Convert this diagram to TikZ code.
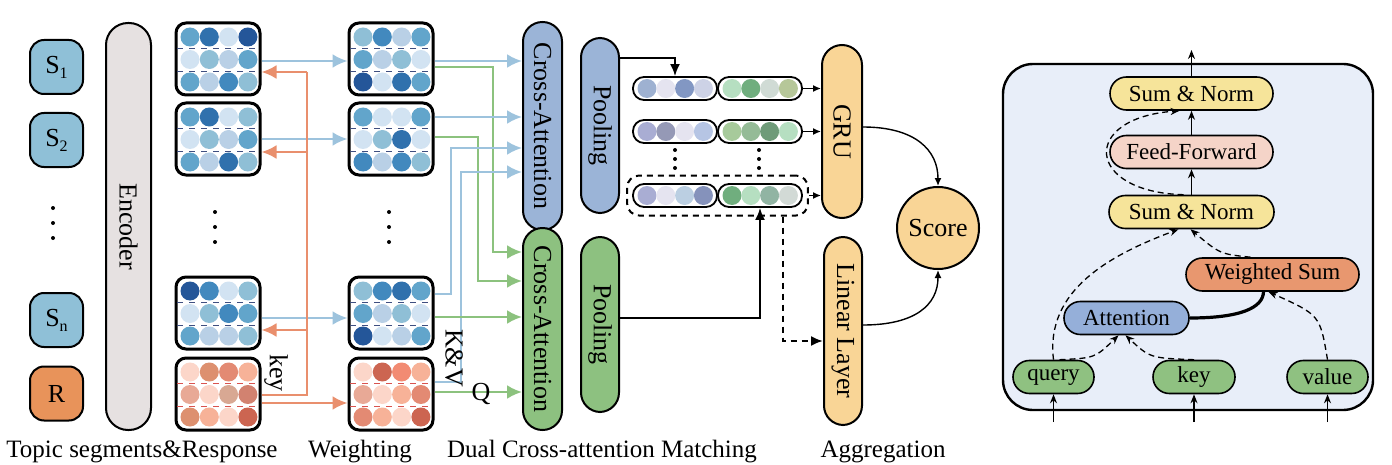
\documentclass[tikz,border=0pt]{standalone}
\usepackage{fontspec}
\setmainfont{Liberation Serif}
\usepackage{graphicx}
\usetikzlibrary{arrows.meta,positioning,fit}

% blues, reds of the feature cards
\definecolor{bA}{HTML}{D2E3F2}
\definecolor{bB}{HTML}{B9D0E6}
\definecolor{bC}{HTML}{8FBFD6}
\definecolor{bD}{HTML}{62A5CB}
\definecolor{bE}{HTML}{4289BE}
\definecolor{bF}{HTML}{3071AD}
\definecolor{bG}{HTML}{245699}
\definecolor{rA}{HTML}{FCD6C9}
\definecolor{rB}{HTML}{E8A996}
\definecolor{rC}{HTML}{F7B298}
\definecolor{rD}{HTML}{DD906F}
\definecolor{rE}{HTML}{E38A73}
\definecolor{rF}{HTML}{D8A893}
\definecolor{rG}{HTML}{D28270}
\definecolor{rH}{HTML}{CC6551}
\definecolor{rI}{HTML}{F28B73}
% pooled vectors
\definecolor{pA}{HTML}{9EB1D1}
\definecolor{pB}{HTML}{E5E4F0}
\definecolor{pC}{HTML}{8297C3}
\definecolor{pD}{HTML}{CDD2E6}
\definecolor{pE}{HTML}{A9ADD3}
\definecolor{pF}{HTML}{9599B6}
\definecolor{pG}{HTML}{B6C5E4}
\definecolor{pH}{HTML}{BBCFE2}
\definecolor{pI}{HTML}{8592BB}
\definecolor{gA}{HTML}{B6DFC1}
\definecolor{gB}{HTML}{70AE7E}
\definecolor{gC}{HTML}{D0DBD5}
\definecolor{gD}{HTML}{B6C799}
\definecolor{gE}{HTML}{A7CA9B}
\definecolor{gF}{HTML}{95BB97}
\definecolor{gG}{HTML}{6F9B79}
\definecolor{gH}{HTML}{91B4A3}
\definecolor{gI}{HTML}{D2DAD6}
% blocks and lines
\definecolor{sblue}{HTML}{8FC0D7}
\definecolor{rorange}{HTML}{E8935A}
\definecolor{encgray}{HTML}{E6E1E1}
\definecolor{cablue}{HTML}{9BB4D7}
\definecolor{cagreen}{HTML}{8DC180}
\definecolor{aggr}{HTML}{F9D596}
\definecolor{lnblue}{HTML}{9DC3DD}
\definecolor{lngreen}{HTML}{8CC27E}
\definecolor{lnorange}{HTML}{E98F6D}
\definecolor{panel}{HTML}{E8EEF9}
\definecolor{snyel}{HTML}{F6E49A}
\definecolor{ffpink}{HTML}{F5D4C8}
\definecolor{wsor}{HTML}{E8976F}
\definecolor{attbl}{HTML}{95AFD9}
\definecolor{qgr}{HTML}{8FC181}
\definecolor{sepblue}{HTML}{3F4F80}
\definecolor{sepred}{HTML}{D9534F}

\tikzset{
	seg/.style={draw, line width=1pt, rounded corners=7pt, minimum width=26.5pt, minimum height=27pt, fill=sblue, inner sep=0pt},
	card/.style={draw, line width=1.5pt, fill=white, rounded corners=5pt, minimum width=42pt, minimum height=36pt, inner sep=0pt},
	vec/.style={draw, line width=0.9pt, fill=white, rounded corners=5.5pt, minimum width=42pt, minimum height=11.5pt, inner sep=0pt},
	tallpill/.style={draw, line width=1pt, inner sep=0pt, rounded corners=9.7pt, minimum width=19.5pt},
	blk/.style={draw, line width=0.8pt, inner sep=0pt, minimum height=16.5pt, rounded corners=8.2pt, font=\fontsize{11.5}{13}\selectfont},
	bluearr/.style={draw=lnblue, line width=1.2pt, -{Latex[length=7.5pt,width=7pt]}},
	greenarr/.style={draw=lngreen, line width=1.2pt, -{Latex[length=7.5pt,width=7pt]}},
	orangeline/.style={draw=lnorange, line width=1.2pt},
	orangearr/.style={draw=lnorange, line width=1.2pt, -{Latex[length=7.5pt,width=7pt]}},
	blkarr/.style={line width=1pt, -{Latex[length=6pt,width=5pt]}},
	thinarr/.style={line width=0.7pt, -{Latex[length=4pt,width=3.5pt]}},
	parr/.style={line width=0.7pt, -{Stealth[length=4.5pt,width=3.5pt]}},
	pdash/.style={line width=0.65pt, dash pattern=on 3pt off 2pt, -{Stealth[length=4.5pt,width=3.5pt]}},
	stagelbl/.style={anchor=base, font=\fontsize{12.5}{14}\selectfont},
}

\newcommand{\subidx}[1]{{\fontsize{8}{8}\selectfont\raisebox{-0.7ex}{#1}}}
\newcommand{\featcard}[5] % {name}{x}{y}{separator}{12 colours}, x,y = top left
{
	\node[card] (#1) at (#2+42,#3+36) {};
	\foreach \clr [count=\i from 0] in {#5} {
		\pgfmathtruncatemacro{\cx}{mod(\i,4)}
		\pgfmathtruncatemacro{\cy}{floor(\i/4)}
		\fill[\clr] (#2+14+19.3*\cx,#3+14+22.5*\cy) circle [radius=9.5];
	}
	\draw[dashed, #4, line width=0.45pt] (#2+1,#3+25.5) -- (#2+83,#3+25.5);
	\draw[dashed, #4, line width=0.45pt] (#2+1,#3+48) -- (#2+83,#3+48);
}
\newcommand{\featvec}[4] % {name}{x}{y}{4 colours}
{
	\node[vec] (#1) at (#2+42,#3+11.5) {};
	\foreach \clr [count=\i from 0] in {#4} {
		\fill[\clr] (#2+14+18.8*\i,#3+11.5) circle [radius=9.5];
	}
}

\begin{document}
\begin{tikzpicture}[x=0.5pt,y=-0.5pt,font=\fontsize{13}{15}\selectfont]
	\useasboundingbox (0,0) rectangle (1392,465);

	% topic segments and response
	\node[seg] (s1) at (56.5,67) {S\subidx{1}};
	\node[seg] (s2) at (56.5,140) {S\subidx{2}};
	\node[seg] (sn) at (56.5,320) {S\subidx{n}};
	\node[seg, fill=rorange] (r) at (56.5,393.5) {R};
	\foreach \y in {208,223,238} \fill (53,\y) circle [radius=2];

	\node[tallpill, fill=encgray, minimum width=22.5pt, minimum height=203.5pt, rounded corners=11pt] (enc) at (128.5,226.5) {\rotatebox{-90}{Encoder}};

	% encoded cards
	\featcard{ea}{176}{23}{sepblue}{bD,bF,bA,bG, bA,bC,bB,bD, bD,bB,bE,bC}
	\featcard{eb}{176}{103}{sepblue}{bD,bF,bA,bC, bA,bC,bB,bD, bD,bB,bF,bC}
	\featcard{en}{176}{277}{sepblue}{bG,bE,bA,bC, bA,bC,bE,bD, bD,bB,bB,bC}
	\featcard{er}{176}{358}{sepred}{rA,rD,rE,rC, rB,rA,rF,rG, rD,rC,rA,rH}

	% weighted cards
	\featcard{wa}{349}{23}{sepblue}{bC,bE,bB,bD, bD,bB,bC,bA, bG,bA,bF,bD}
	\featcard{wb}{349}{103}{sepblue}{bD,bA,bA,bD, bA,bC,bF,bA, bE,bB,bE,bC}
	\featcard{wn}{349}{277}{sepblue}{bC,bE,bF,bD, bD,bB,bC,bA, bG,bA,bB,bD}
	\featcard{wr}{349}{358}{sepred}{rA,rH,rI,rC, rB,rA,rC,rE, rE,rC,rA,rH}

	\foreach \y in {212,227,242} {
		\fill (215,\y) circle [radius=2];
		\fill (389,\y) circle [radius=2];
	}

	% weighting
	\draw[bluearr] (ea.east |- 0,61) -- (wa.west |- 0,61);
	\draw[bluearr] (eb.east |- 0,139) -- (wb.west |- 0,139);
	\draw[bluearr] (en.east |- 0,318) -- (wn.west |- 0,318);
	\coordinate (kr) at (307,395);
	\draw[orangeline] (er.east |- kr) -- (kr) -- (kr |- 0,72);
	\draw[orangearr] (kr |- 0,72) -- (ea.east |- 0,72);
	\draw[orangearr] (kr |- 0,152) -- (eb.east |- 0,152);
	\draw[orangearr] (kr |- 0,330) -- (en.east |- 0,330);
	\draw[orangearr] (er.east |- 0,403) -- (wr.west |- 0,403);
	\node[rotate=-90] (keylbl) at (276,373) {key};

	% dual cross-attention
	\node[tallpill, fill=cablue, minimum height=104pt] (ca1) at (542.5,126) {\rotatebox{-90}{Cross-Attention}};
	\node[tallpill, fill=cagreen, minimum height=101pt] (ca2) at (542.5,329) {\rotatebox{-90}{Cross-Attention}};
	\node[tallpill, fill=cablue, minimum width=19pt, minimum height=87.5pt] (pb) at (600,125.5) {\rotatebox{-90}{Pooling}};
	\node[tallpill, fill=cagreen, minimum width=19pt, minimum height=87.5pt] (pg) at (600,324.5) {\rotatebox{-90}{Pooling}};

	\draw[greenarr] (wa.east |- 0,67) -| (493,252) -- (ca2.west |- 0,252);
	\draw[greenarr] (wb.east |- 0,137) -| (478,281) -- (ca2.west |- 0,281);
	\draw[bluearr] (wa.east |- 0,61) -- (ca1.west |- 0,61);
	\draw[bluearr] (wb.east |- 0,117) -- (ca1.west |- 0,117);
	\draw[bluearr] (wn.east |- 0,294) -| (451,148) -- (ca1.west |- 0,148);
	\draw[bluearr] (wr.east |- 0,382) -| (461,172) -- (ca1.west |- 0,172);
	\draw[greenarr] (wn.east |- 0,317) -- (ca2.west |- 0,317);
	\draw[greenarr] (wr.east |- 0,392) -- (ca2.west |- 0,392);
	\node[rotate=-90] (kvlbl) at (454,358) {K\&V};
	\node (qlbl) at (481,394) {Q};

	% pooled vectors
	\featvec{va1}{633}{77}{pA,pB,pC,pD}
	\featvec{vb1}{718}{77}{gA,gB,gC,gD}
	\featvec{va2}{633}{120}{pE,pF,pB,pG}
	\featvec{vb2}{718}{120}{gE,gF,gG,gA}
	\featvec{va3}{633}{184}{pE,pB,pH,pI}
	\featvec{vb3}{718}{184}{gB,gA,gH,gI}
	\foreach \y in {150,159,168} {
		\fill (675,\y) circle [radius=2];
		\fill (759,\y) circle [radius=2];
	}
	\node[draw, line width=1pt, dash pattern=on 3pt off 2.5pt, rounded corners=6pt, inner xsep=2.5pt, inner ysep=3.8pt, fit=(va3)(vb3)] (sel) {};

	\draw[blkarr] (pb.east |- 0,58) -| (va1.north);
	\draw[blkarr] (pg.east |- 0,318) -| (vb3.south);

	% aggregation
	\node[tallpill, fill=aggr, minimum width=20pt, minimum height=86.5pt, rounded corners=10pt] (gru) at (842,131.5) {\rotatebox{-90}{GRU}};
	\node[tallpill, fill=aggr, minimum width=19pt, minimum height=94pt] (lin) at (843,331) {\rotatebox{-90}{Linear Layer}};
	\node[circle, draw, line width=1pt, fill=aggr, minimum size=41pt, inner sep=0pt] (score) at (938,228) {Score};

	\draw[thinarr] (vb1.east) -- (gru.west |- vb1.east);
	\draw[thinarr] (vb2.east) -- (gru.west |- vb2.east);
	\draw[thinarr] (sel.east |- vb3.east) -- (gru.west |- vb3.east);
	\coordinate (dd) at (783,341);
	\draw[line width=1pt, dash pattern=on 3pt off 2.5pt, -{Latex[length=6pt,width=5pt]}] (sel.south -| dd) -- (dd) -- (lin.west |- dd);
	\draw[thinarr] (gru.east |- 0,127) .. controls (915,127) and (938,150) .. (score.north);
	\draw[thinarr] (lin.east |- 0,325) .. controls (915,325) and (938,305) .. (score.south);

	% stage labels
	\node[stagelbl] (lbltopic) at (142,457) {Topic segments\&Response};
	\node[stagelbl] (lblweight) at (360,457) {Weighting};
	\node[stagelbl] (lbldual) at (602,457) {Dual Cross-attention Matching};
	\node[stagelbl] (lblagg) at (883,457) {Aggregation};

	% cross-attention block
	\draw[line width=1.2pt, fill=panel, rounded corners=15pt] (1003,64) rectangle (1373,410);
	\node[blk, fill=snyel, minimum width=81.5pt] (sn1) at (1191.5,93.5) {Sum \& Norm};
	\node[blk, fill=ffpink, minimum width=81.5pt] (ff) at (1191.5,152) {Feed-Forward};
	\node[blk, fill=snyel, minimum width=82.5pt] (sn2) at (1191.5,212) {Sum \& Norm};
	\node[blk, fill=wsor, minimum width=86.5pt] (ws) at (1272.5,274.5) {Weighted Sum};
	\node[blk, fill=attbl, minimum width=62.5pt] (att) at (1126.5,318) {Attention};
	\node[blk, fill=qgr, minimum width=40.5pt] (qry) at (1053.5,377) {query};
	\node[blk, fill=qgr, minimum width=41pt] (kei) at (1194,377) {key};
	\node[blk, fill=qgr, minimum width=40.5pt] (val) at (1327.5,377) {value};

	\coordinate (qin) at (1053.5,422);
	\coordinate (kin) at (1194,422);
	\coordinate (vin) at (1327.5,422);
	\coordinate (outp) at (1191.5,50);
	\draw[parr] (qin) -- (qry.south);
	\draw[parr] (kin) -- (kei.south);
	\draw[parr] (vin) -- (val.south);
	\draw[parr] (sn1.north) -- (outp);
	\draw[parr] (sn2.north) -- (ff.south);
	\draw[parr] (ff.north) -- (sn1.south);

	\draw[pdash] ([xshift=-4pt]sn2.north) .. controls (1085,192) and (1080,118) .. ([xshift=-6pt]sn1.south);
	\draw[pdash] (qry.north) .. controls (1045,290) and (1110,255) .. ([xshift=-6.5pt]sn2.south);
	\draw[pdash] ([xshift=-11pt]ws.north) .. controls (1220,254) .. ([xshift=-0.5pt]sn2.south);
	\draw[pdash] ([xshift=3pt]qry.north) .. controls (1095,358) .. ([xshift=-4pt]att.south);
	\draw[pdash] (kei.north) .. controls (1150,358) .. ([xshift=-0.5pt]att.south);
	\draw[pdash] (val.north) .. controls (1320,315) .. ([xshift=-2pt]ws.south);
	\draw[line width=1.6pt] (att.east) .. controls (1240,318) and (1263,308) .. ([xshift=-4.5pt]ws.south);
\end{tikzpicture}
\end{document}
